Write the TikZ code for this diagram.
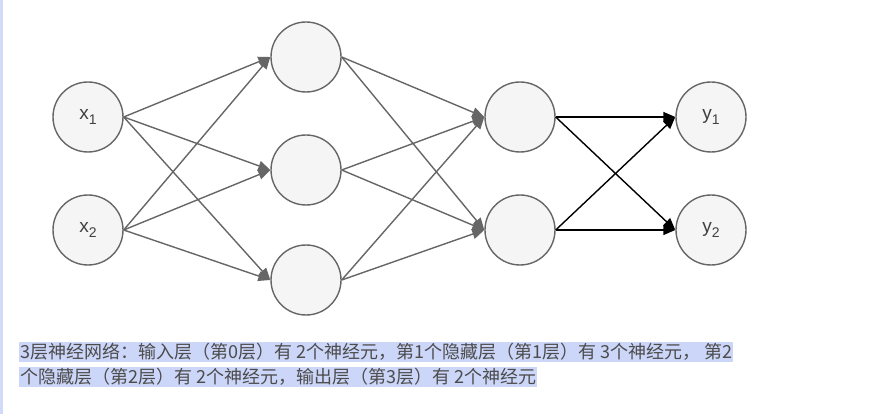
\documentclass[tikz,border=0pt]{standalone}
\usepackage{fontspec}
\setmainfont{Liberation Sans}
\newfontfamily\cjk{Noto Sans CJK SC}
\usetikzlibrary{arrows.meta}
\definecolor{hlc}{RGB}{204,214,248}
\definecolor{edgec}{RGB}{210,218,250}
\newcommand{\mysub}[1]{\raisebox{-0.45ex}{\fontsize{14}{14}\selectfont #1}}
\begin{document}
\begin{tikzpicture}[x=1pt,y=-1pt,
  neuron/.style={circle,draw=black!60,fill=black!4,line width=1.4pt,minimum size=70pt,inner sep=0pt,font=\fontsize{19}{22}\selectfont,text=black!75},
  con/.style={draw=black!60,line width=1.4pt,-{Triangle[length=12pt,width=10pt]}},
  conb/.style={draw=black,line width=1.4pt,-{Triangle[length=12pt,width=10pt]}},
  hl/.style={fill=hlc,inner sep=1pt,anchor=west,font=\cjk\fontsize{18}{20}\selectfont,text=black!70}]
\useasboundingbox (0,0) rectangle (871,414);
\fill[edgec] (0,0) rectangle (3,414);
\node[neuron] (x1) at (88,117) {x\mysub{1}};
\node[neuron] (x2) at (88,230) {x\mysub{2}};
\node[neuron] (h1) at (306,57) {};
\node[neuron] (h2) at (306,170) {};
\node[neuron] (h3) at (306,280) {};
\node[neuron] (g1) at (520,117) {};
\node[neuron] (g2) at (520,230) {};
\node[neuron] (y1) at (711,117) {y\mysub{1}};
\node[neuron] (y2) at (711,230) {y\mysub{2}};
\foreach \s in {x1,x2}{\foreach \t in {h1,h2,h3}{\draw[con] (\s.east) -- (\t.west);}}
\foreach \s in {h1,h2,h3}{\foreach \t in {g1,g2}{\draw[con] (\s.east) -- (\t.west);}}
\foreach \s in {g1,g2}{\foreach \t in {y1,y2}{\draw[conb] (\s.east) -- (\t.west);}}
\node[hl] (t1) at (19,352) {3层神经网络：输入层（第0层）有 2个神经元，第1个隐藏层（第1层）有 3个神经元， 第2};
\node[hl] (t2) at (19,377) {个隐藏层（第2层）有 2个神经元，输出层（第3层）有 2个神经元};
\end{tikzpicture}
\end{document}
